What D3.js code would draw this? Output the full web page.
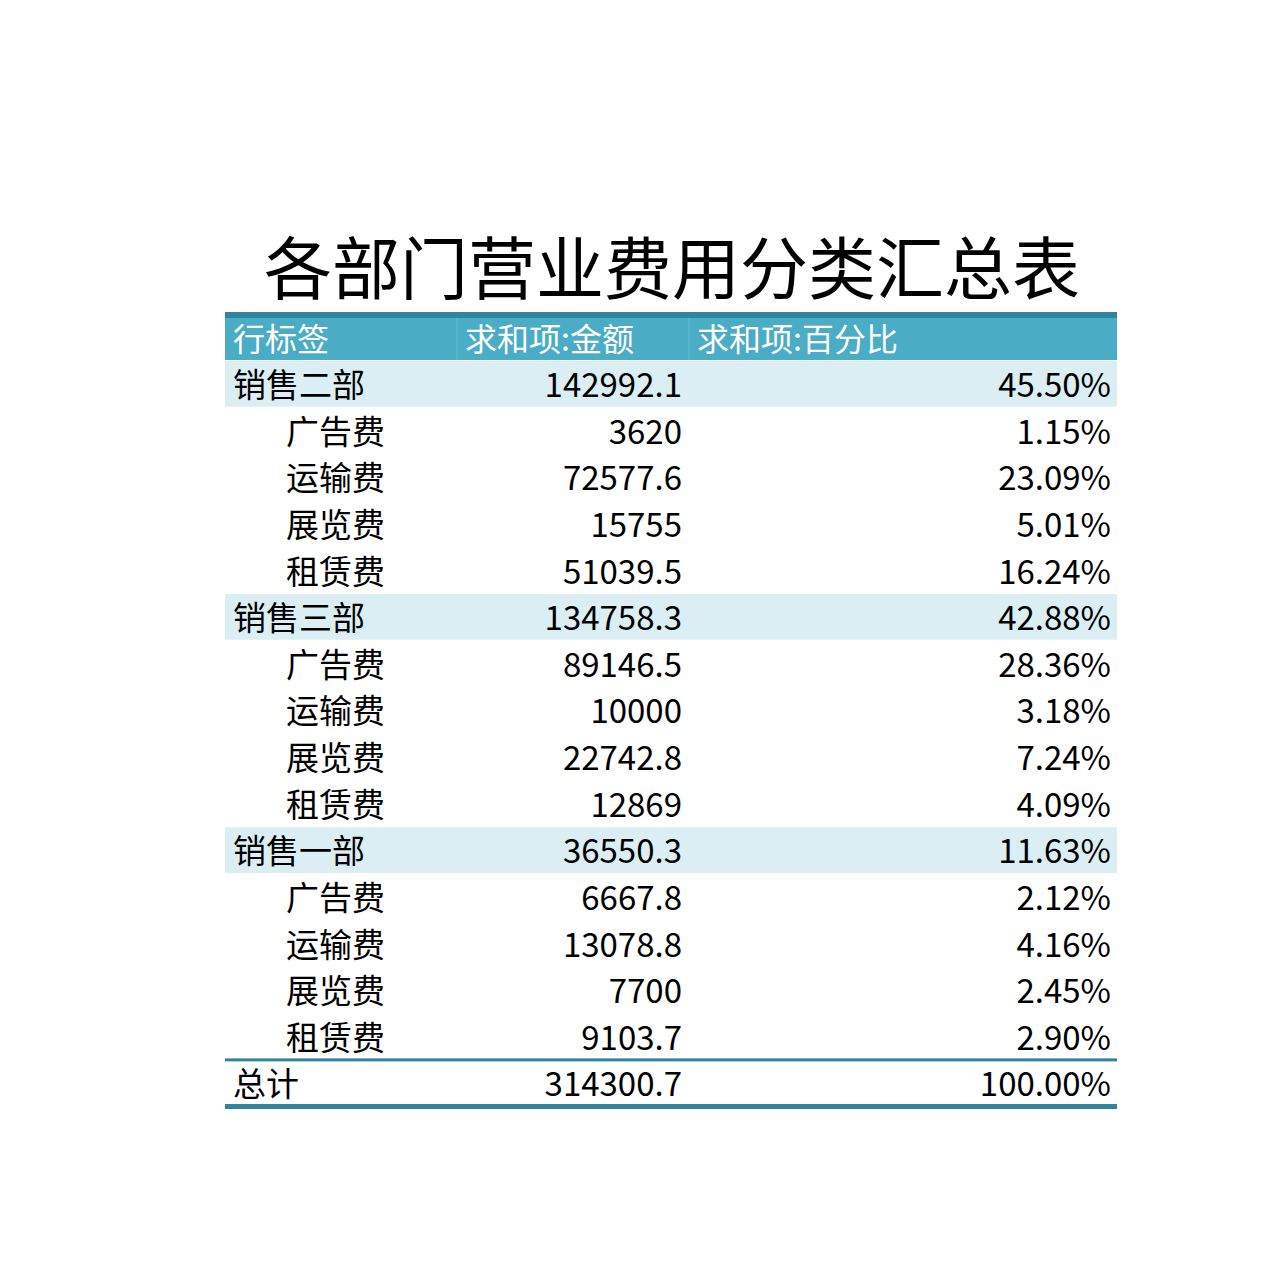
<!DOCTYPE html>
<html>
<head>
<meta charset="utf-8">
<script src="https://cdn.jsdelivr.net/npm/d3@7"></script>
<style>
  body { margin: 0; background: #fff; }
  text { font-family: "Noto Sans CJK SC", "Noto Sans", sans-serif; }
</style>
</head>
<body>
<div id="chart"></div>
<script>
const title = '各部门营业费用分类汇总表'
const headers = ['行标签', '求和项:金额', '求和项:百分比']
const departments = ['销售二部', '销售三部', '销售一部']
const deptAmounts = ['142992.1', '134758.3', '36550.3']
const deptPercents = ['45.50%', '42.88%', '11.63%']
const items = ['广告费', '运输费', '展览费', '租赁费']
const itemAmounts = [
  ['3620', '72577.6', '15755', '51039.5'],
  ['89146.5', '10000', '22742.8', '12869'],
  ['6667.8', '13078.8', '7700', '9103.7']
]
const itemPercents = [
  ['1.15%', '23.09%', '5.01%', '16.24%'],
  ['28.36%', '3.18%', '7.24%', '4.09%'],
  ['2.12%', '4.16%', '2.45%', '2.90%']
]
const total = ['总计', '314300.7', '100.00%']

const rows = []
departments.forEach((d, i) => {
  rows.push({ label: d, amount: deptAmounts[i], pct: deptPercents[i], type: 'dept' })
  items.forEach((it, j) => rows.push({ label: it, amount: itemAmounts[i][j], pct: itemPercents[i][j], type: 'item' }))
})
rows.push({ label: total[0], amount: total[1], pct: total[2], type: 'total' })

const width = 1280
const height = 1281
const left = 225
const right = 1117
const colEdges = [225, 457, 689, 1117]

const svg = d3.select('#chart').append('svg')
  .attr('width', width).attr('height', height)

const y = d3.scaleBand()
  .domain(d3.range(rows.length))
  .range([361, 1107])

svg.append('text')
  .attr('x', 672).attr('y', 294)
  .attr('text-anchor', 'middle')
  .attr('font-size', 68)
  .attr('fill', '#000')
  .text(title)

// header
svg.append('rect').attr('x', left).attr('y', 313).attr('width', right - left).attr('height', 47).attr('fill', '#4BACC6')
svg.append('rect').attr('x', left).attr('y', 312).attr('width', right - left).attr('height', 6).attr('fill', '#31849B')
headers.forEach((h, i) => {
  svg.append('text')
    .attr('x', colEdges[i] + 8).attr('y', 351)
    .attr('font-size', 32).attr('fill', '#fff')
    .text(h)
})
svg.selectAll('line.hsep').data([457, 689]).join('line')
  .attr('x1', d => d).attr('x2', d => d).attr('y1', 318).attr('y2', 360)
  .attr('stroke', '#5fb8cf').attr('stroke-width', 1)

const g = svg.append('g')
const row = g.selectAll('g').data(rows).join('g')
  .attr('transform', (d, i) => `translate(0,${y(i)})`)

row.filter(d => d.type === 'dept').append('rect')
  .attr('x', left).attr('width', right - left).attr('height', y.bandwidth() - 1)
  .attr('fill', '#DAEEF3')

row.append('text')
  .attr('x', d => d.type === 'item' ? 286 : 233)
  .attr('y', 36).attr('font-size', 33).attr('fill', '#000')
  .text(d => d.label)

row.append('text')
  .attr('x', 682).attr('y', 36).attr('text-anchor', 'end')
  .attr('font-size', 33).attr('fill', '#000')
  .text(d => d.amount)

row.append('text')
  .attr('x', 1111).attr('y', 36).attr('text-anchor', 'end')
  .attr('font-size', 33).attr('fill', '#000')
  .text(d => d.pct)

const totalIdx = rows.length - 1
svg.append('rect').attr('x', left).attr('y', y(totalIdx) - 2).attr('width', right - left).attr('height', 3).attr('fill', '#31849B')
svg.append('rect').attr('x', left).attr('y', y(totalIdx) + y.bandwidth() - 3).attr('width', right - left).attr('height', 5).attr('fill', '#31849B')
</script>
</body>
</html>
